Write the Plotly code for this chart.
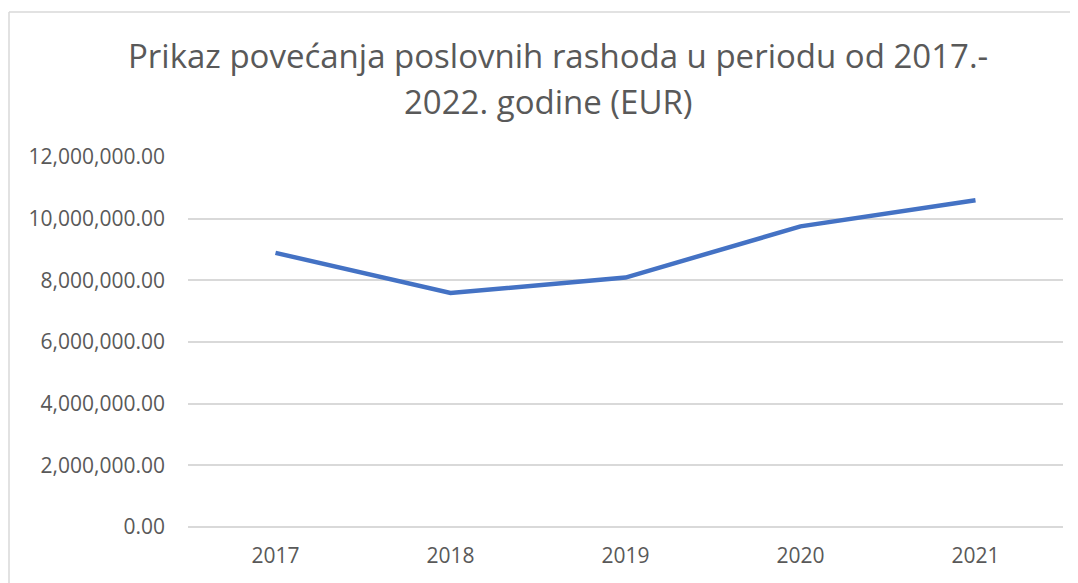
import plotly.graph_objects as go

years = ["2017", "2018", "2019", "2020", "2021"]
expenses = [8890000, 7590000, 8090000, 9750000, 10600000]
title_line1 = "Prikaz povećanja poslovnih rashoda u periodu od 2017.-"
title_line2 = "2022. godine (EUR)"

# page body has an 8px margin, so the figure is drawn at (8, 8)
W, H = 1070, 575
L, R, T, B = 180, 15, 149, 56
pw, ph = W - L - R, H - T - B

fig = go.Figure()
fig.add_trace(go.Scatter(
    x=years, y=expenses, mode="lines",
    line=dict(color="#4472C4", width=4.5),
    hoverinfo="x+y",
))

grid = "#D9D9D9"
txt = "#595959"
font = "Open Sans, Liberation Sans, Arial, sans-serif"

fig.update_layout(
    width=W, height=H,
    margin=dict(l=L, r=R, t=T, b=B),
    paper_bgcolor="white", plot_bgcolor="white",
    showlegend=False,
    font=dict(family=font, color=txt),
    xaxis=dict(
        type="category", range=[-0.5, 4.5],
        showgrid=False, showline=False, zeroline=False,
        ticks="", ticklabelstandoff=14,
        tickfont=dict(size=21, color=txt),
    ),
    yaxis=dict(
        range=[0, 12000000], dtick=2000000, tickformat=",.2f",
        showgrid=True, gridcolor=grid, gridwidth=1.5,
        zeroline=True, zerolinecolor=grid, zerolinewidth=1.5,
        showline=False, ticks="", ticklabelstandoff=22,
        tickfont=dict(size=21, color=txt),
    ),
)

def px_x(x):
    return (x - 8 - L) / pw

def px_y(y):
    return (H - B - (y - 8)) / ph

fig.add_annotation(text=title_line1, xref="paper", yref="paper",
                   x=px_x(557.5), y=px_y(56), xanchor="center", yanchor="middle",
                   showarrow=False, font=dict(size=33, color=txt, family=font))
fig.add_annotation(text=title_line2, xref="paper", yref="paper",
                   x=px_x(548.5), y=px_y(102), xanchor="center", yanchor="middle",
                   showarrow=False, font=dict(size=33, color=txt, family=font))

fx = px_x(9)
fy = px_y(12)
fig.add_shape(type="line", xref="paper", yref="paper",
              x0=fx, x1=fx, y0=-1, y1=fy, line=dict(color=grid, width=1.5))
fig.add_shape(type="line", xref="paper", yref="paper",
              x0=fx, x1=2, y0=fy, y1=fy, line=dict(color=grid, width=1.5))

fig.write_html("out.html")
